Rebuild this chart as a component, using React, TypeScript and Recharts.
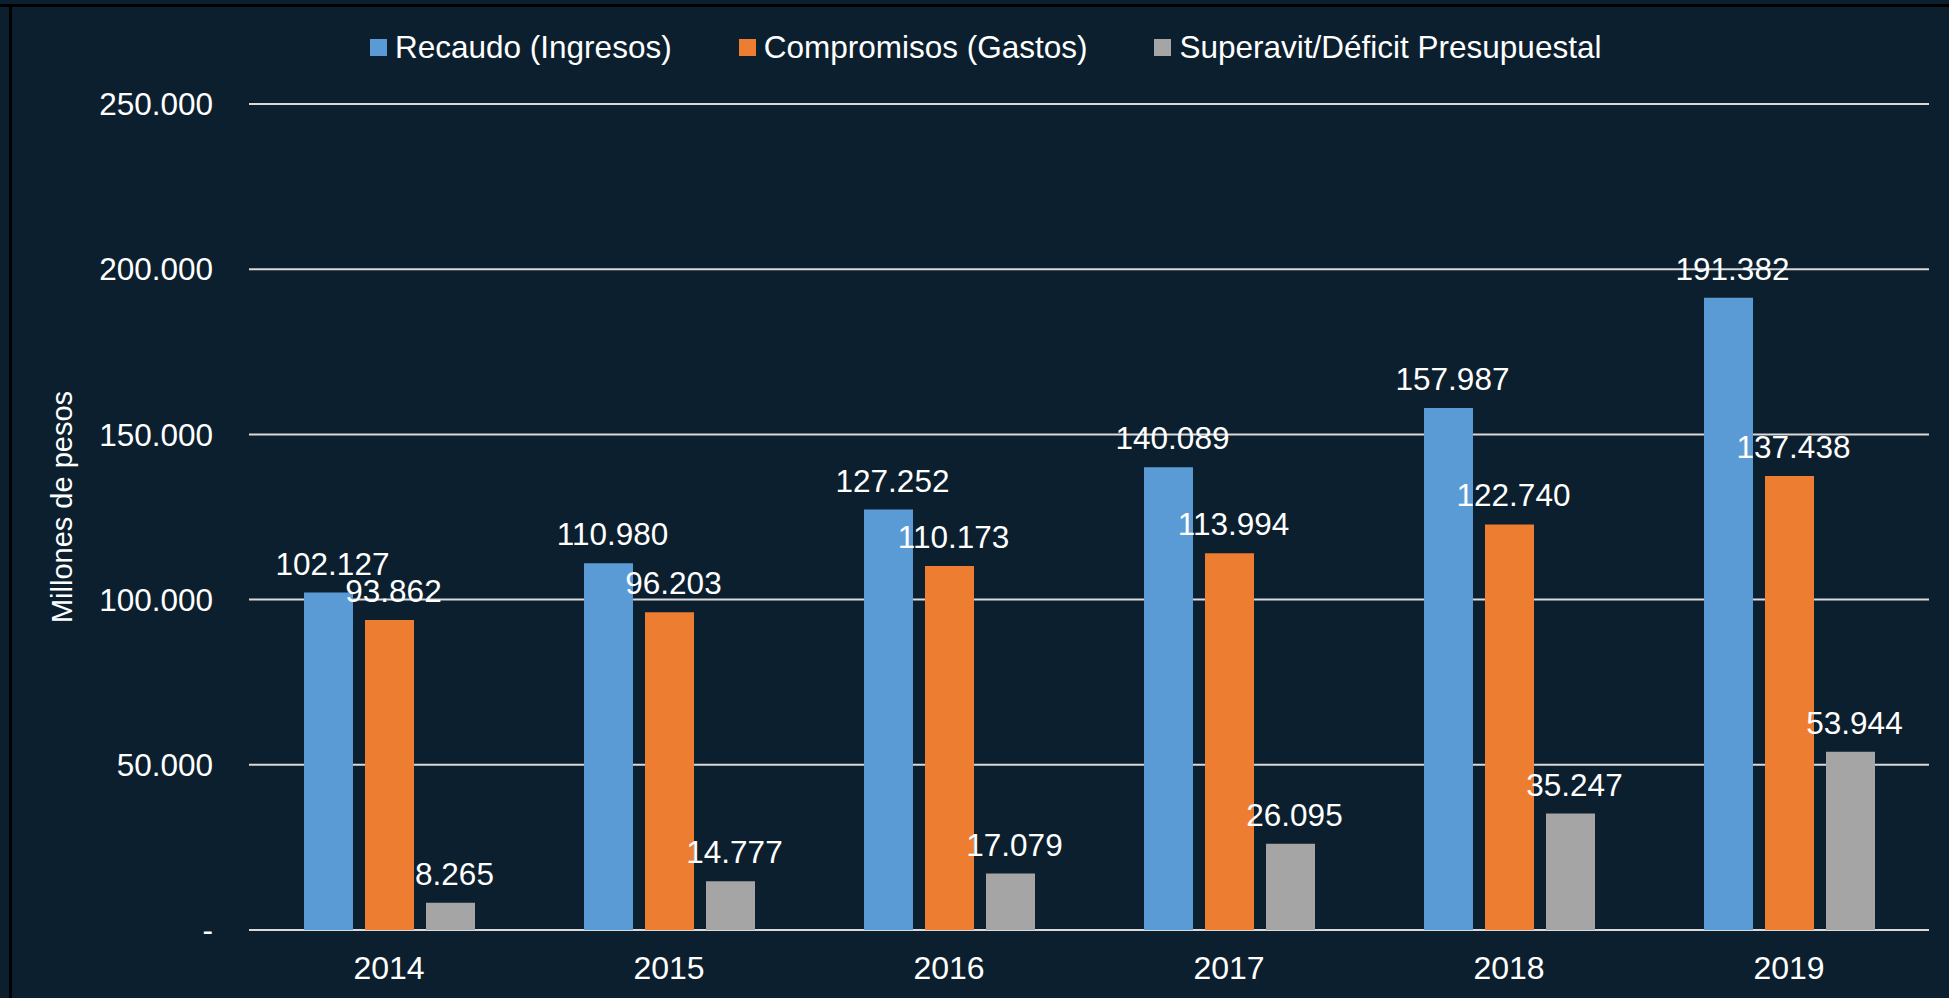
import React from 'react'
import { BarChart, Bar, XAxis, YAxis, CartesianGrid, Legend, LabelList } from 'recharts'

// values (millones de pesos)
const years = ['2014', '2015', '2016', '2017', '2018', '2019']
const recaudo = [102127, 110980, 127252, 140089, 157987, 191382]
const compromisos = [93862, 96203, 110173, 113994, 122740, 137438]
const superavit = [8265, 14777, 17079, 26095, 35247, 53944]
const yTicks = [0, 50000, 100000, 150000, 200000, 250000]

const series = [
  { key: 'recaudo', name: 'Recaudo (Ingresos)', color: '#5B9BD5' },
  { key: 'compromisos', name: 'Compromisos (Gastos)', color: '#ED7D31' },
  { key: 'superavit', name: 'Superavit/Déficit Presupuestal', color: '#A5A5A5' },
]

const BG = '#0C1F2E'
const FONT = '"Liberation Sans", Arial, sans-serif'

// 102127 -> "102.127"
const fmt = (v: number) => String(Math.round(v)).replace(/\B(?=(\d{3})+(?!\d))/g, '.')
const fmtTick = (v: number) => (v === 0 ? '-' : fmt(v))

const data = years.map((year, i) => ({
  year,
  recaudo: recaudo[i],
  compromisos: compromisos[i],
  superavit: superavit[i],
}))

function LegendRow() {
  return (
    <div style={{ height: 104, position: 'relative' }}>
      <div
        style={{
          position: 'absolute',
          top: 31,
          left: 370,
          display: 'flex',
          alignItems: 'center',
          fontSize: 31.5,
          lineHeight: '32px',
          color: '#fff',
          whiteSpace: 'nowrap',
        }}
      >
        {series.map((s, i) => (
          <div key={s.key} style={{ display: 'flex', alignItems: 'center', marginLeft: i === 0 ? 0 : 67 }}>
            <span style={{ width: 17, height: 17, background: s.color, display: 'inline-block', marginRight: 8 }} />
            <span>{s.name}</span>
          </div>
        ))}
      </div>
    </div>
  )
}

export default function App() {
  return (
    <div style={{ position: 'relative', width: 1949, height: 998, background: BG, fontFamily: FONT, overflow: 'hidden' }}>
      <style>{`html,body{margin:0;padding:0;background:${BG};}`}</style>
      <div style={{ position: 'absolute', left: 0, top: 4, width: 1949, height: 3, background: '#000' }} />
      <div style={{ position: 'absolute', left: 9, top: 4, width: 3, height: 994, background: '#000' }} />
      <BarChart
        width={1949}
        height={998}
        data={data}
        margin={{ top: 0, right: 20, left: 0, bottom: 0 }}
        barGap={12}
        style={{ position: 'absolute', left: 0, top: 0 }}
      >
        <CartesianGrid vertical={false} stroke="#D9D9D9" strokeWidth={2} />
        <XAxis
          dataKey="year"
          height={68}
          tickLine={false}
          axisLine={false}
          tickSize={0}
          tickMargin={26}
          tick={{ fill: '#fff', fontSize: 32 }}
        />
        <YAxis
          width={249}
          domain={[0, 250000]}
          ticks={yTicks}
          tickFormatter={fmtTick}
          tickLine={false}
          axisLine={false}
          tickSize={0}
          tickMargin={36}
          tick={{ fill: '#fff', fontSize: 31.5 }}
          label={{
            content: () => (
              <text
                x={62}
                y={507}
                transform="rotate(-90 62 507)"
                textAnchor="middle"
                dominantBaseline="central"
                fill="#fff"
                fontSize={29}
              >
                Millones de pesos
              </text>
            ),
          }}
        />
        <Legend verticalAlign="top" wrapperStyle={{ left: 0, top: 0, width: 1949 }} content={() => <LegendRow />} />
        {series.map((s) => (
          <Bar key={s.key} dataKey={s.key} name={s.name} fill={s.color} barSize={49} isAnimationActive={false}>
            <LabelList
              dataKey={s.key}
              position="top"
              offset={18}
              dx={4}
              fill="#fff"
              fontSize={31.5}
              formatter={(v: any) => fmt(Number(v))}
            />
          </Bar>
        ))}
      </BarChart>
    </div>
  )
}
